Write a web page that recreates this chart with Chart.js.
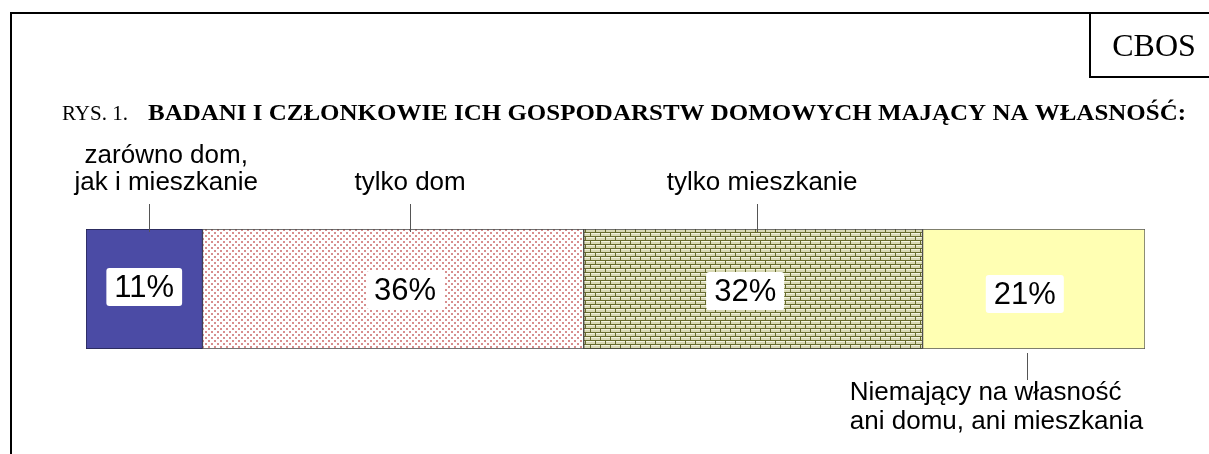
<!DOCTYPE html>
<html>
<head>
<meta charset="utf-8">
<script src="https://cdn.jsdelivr.net/npm/chart.js@4/dist/chart.umd.min.js"></script>
<style>
    body { margin: 0; background: #fff; }
    #wrap { width: 1209px; height: 454px; position: relative; }
</style>
</head>
<body>
<div id="wrap"><canvas id="rys1"></canvas></div>
<script>
// dane z rysunku
var categories = ['zarówno dom, jak i mieszkanie', 'tylko dom', 'tylko mieszkanie', 'Niemający na własność ani domu, ani mieszkania'];
var values = [11, 36, 32, 21];
var calloutLines = [
    ['zarówno dom,', 'jak i mieszkanie'],
    ['tylko dom'],
    ['tylko mieszkanie'],
    ['Niemający na własność', 'ani domu, ani mieszkania']
];
var titlePrefix = 'RYS. 1.';
var titleText = 'BADANI I CZŁONKOWIE ICH GOSPODARSTW DOMOWYCH MAJĄCY NA WŁASNOŚĆ:';
var sourceText = 'CBOS';

// wzory wypelnien
function makeTile(w, h, draw) {
    var c = document.createElement('canvas');
    c.width = w;
    c.height = h;
    draw(c.getContext('2d'));
    return document.getElementById('rys1').getContext('2d').createPattern(c, 'repeat');
}

var dotsPattern = makeTile(6, 6, function (g) {
    g.fillStyle = '#ffffff';
    g.fillRect(0, 0, 6, 6);
    g.fillStyle = '#d88e8e';
    g.fillRect(1, 1, 2, 2);
    g.fillRect(4, 4, 2, 2);
});

var brickPattern = makeTile(10, 8, function (g) {
    g.fillStyle = '#666a2c';
    g.fillRect(0, 0, 10, 8);
    g.fillStyle = '#d9d9b5';
    g.fillRect(1, 1, 9, 3);
    g.fillRect(0, 5, 5, 3);
    g.fillRect(6, 5, 4, 3);
    g.fillStyle = '#f2f2e0';
    g.fillRect(1, 1, 9, 1);
    g.fillRect(0, 5, 5, 1);
    g.fillRect(6, 5, 4, 1);
});

var fills = ['#4b4ba5', dotsPattern, brickPattern, '#ffffb3'];
var borders = ['#22224a', '#444444', '#444444', '#555555'];

// polozenie opisow wzgledem srodka segmentu
var calloutPos = [
    {dx: 22, side: 'top', lineDx: 5, align: 'center'},
    {dx: 17, side: 'top', lineDx: 17, align: 'center'},
    {dx: 9, side: 'top', lineDx: 4, align: 'center'},
    {dx: -184, side: 'bottom', lineDx: -7, align: 'left'}
];
var labelDx = [0, 12, -8, -9];
var labelDy = [-2, 1, 2, 5];

var framePlugin = {
    id: 'frame',
    beforeDraw: function (chart) {
        var ctx = chart.ctx;
        ctx.save();
        ctx.strokeStyle = '#000';
        ctx.lineWidth = 2;
        ctx.beginPath();
        ctx.moveTo(11, 454);
        ctx.lineTo(11, 13);
        ctx.lineTo(1209, 13);
        ctx.moveTo(1090, 13);
        ctx.lineTo(1090, 77);
        ctx.lineTo(1209, 77);
        ctx.stroke();

        ctx.fillStyle = '#000';
        ctx.textBaseline = 'alphabetic';
        ctx.font = '32px "Liberation Serif", "Times New Roman", serif';
        ctx.textAlign = 'center';
        ctx.fillText(sourceText, 1154, 56);

        ctx.textAlign = 'left';
        ctx.font = '21px "Liberation Serif", "Times New Roman", serif';
        ctx.fillText(titlePrefix, 62, 120);
        ctx.font = 'bold 24px "Liberation Serif", "Times New Roman", serif';
        var w = ctx.measureText(titleText).width;
        ctx.save();
        ctx.translate(148, 120);
        ctx.scale(1038 / w, 1);
        ctx.fillText(titleText, 0, 0);
        ctx.restore();
        ctx.restore();
    },
    afterDatasetsDraw: function (chart) {
        var ctx = chart.ctx;
        ctx.save();
        chart.data.datasets.forEach(function (ds, i) {
            var bar = chart.getDatasetMeta(i).data[0];
            var cx = (bar.x + bar.base) / 2;
            var cy = bar.y;
            var top = cy - bar.height / 2;
            var bottom = cy + bar.height / 2;

            // etykieta procentowa w bialej ramce
            var txt = ds.data[0] + '%';
            ctx.font = '31px "Liberation Sans", Arial, sans-serif';
            var tw = ctx.measureText(txt).width;
            var lx = cx + labelDx[i];
            var ly = cy + labelDy[i];
            ctx.fillStyle = '#fff';
            ctx.beginPath();
            ctx.roundRect(lx - tw / 2 - 8, ly - 19, tw + 16, 38, 3);
            ctx.fill();
            ctx.fillStyle = '#000';
            ctx.textAlign = 'center';
            ctx.textBaseline = 'middle';
            ctx.fillText(txt, lx, ly + 1);

            // opis z kreska
            var p = calloutPos[i];
            var lines = calloutLines[i];
            ctx.strokeStyle = '#555';
            ctx.lineWidth = 1;
            ctx.font = '26px "Liberation Sans", Arial, sans-serif';
            ctx.textAlign = p.align;
            ctx.beginPath();
            if (p.side == 'top') {
                var x = Math.round(cx + p.lineDx) + 0.5;
                ctx.moveTo(x, top + 3);
                ctx.lineTo(x, top - 25);
                ctx.stroke();
                for (var k = 0; k < lines.length; k++) {
                    ctx.fillText(lines[k], cx + p.dx, top - 46 - (lines.length - 1 - k) * 27);
                }
            } else {
                var x2 = Math.round(cx + p.lineDx) + 0.5;
                ctx.moveTo(x2, bottom + 4);
                ctx.lineTo(x2, bottom + 31);
                ctx.stroke();
                for (var m = 0; m < lines.length; m++) {
                    ctx.fillText(lines[m], cx + p.dx, bottom + 44 + m * 29);
                }
            }
        });
        ctx.restore();
    }
};

var datasets = categories.map(function (name, i) {
    return {
        label: name,
        data: [values[i]],
        backgroundColor: fills[i],
        borderColor: borders[i],
        borderWidth: 1,
        borderSkipped: false,
        barPercentage: 1,
        categoryPercentage: 1
    };
});

new Chart(document.getElementById('rys1'), {
    type: 'bar',
    data: {labels: [''], datasets: datasets},
    options: {
        indexAxis: 'y',
        responsive: true,
        maintainAspectRatio: false,
        animation: false,
        layout: {padding: {left: 86, right: 64, top: 229, bottom: 105}},
        scales: {
            x: {stacked: true, min: 0, max: 100, display: false},
            y: {stacked: true, display: false}
        },
        plugins: {
            legend: {display: false},
            tooltip: {enabled: false}
        }
    },
    plugins: [framePlugin]
});
</script>
</body>
</html>
